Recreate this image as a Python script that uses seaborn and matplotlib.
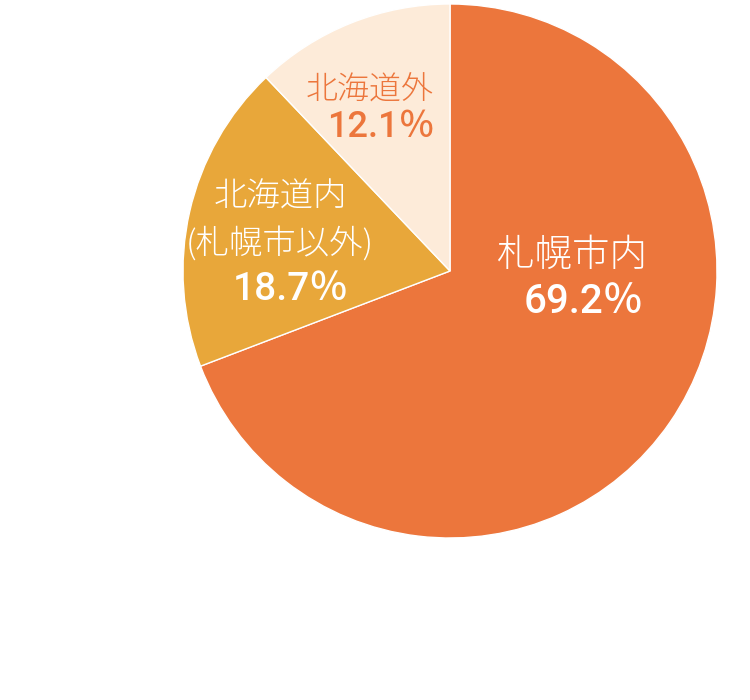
import matplotlib
matplotlib.use('Agg')
import matplotlib.pyplot as plt
import seaborn as sns

categories = ['札幌市内', '北海道内\n(札幌市以外)', '北海道外']
shares = [69.2, 18.7, 12.1]
colors = ['#EC763C', '#E8A73A', '#FDEBD9']
text_colors = ['white', 'white', '#EC763C']

sns.set_theme(style='white')
plt.rcParams['font.family'] = ['Noto Sans CJK JP', 'DejaVu Sans']

fig = plt.figure(figsize=(7.5, 7), dpi=100)
ax = fig.add_axes([183 / 750, 162 / 700, 534 / 750, 534 / 700])
ax.pie(shares, colors=colors, startangle=90, counterclock=False,
       wedgeprops=dict(edgecolor='white', linewidth=1))
ax.set_xlim(-1, 1)
ax.set_ylim(-1, 1)
ax.set_aspect('equal')
ax.axis('off')

# label placement, data units
name_pos = [(0.457, 0.06), (-0.637, 0.187), (-0.30, 0.678)]
name_size = [27, 24, 23]
value_pos = [(0.502, -0.116), (-0.595, -0.071), (-0.258, 0.536)]
value_size = [29, 28, 26]
for i in range(len(categories)):
    ax.text(*name_pos[i], categories[i], color=text_colors[i],
            fontsize=name_size[i], fontweight='light',
            ha='center', va='center', linespacing=1.45)
    ax.text(*value_pos[i], f'{shares[i]:.1f}％', color=text_colors[i],
            fontsize=value_size[i], fontweight='medium',
            family=['Roboto', 'Noto Sans CJK JP'],
            ha='center', va='center')

fig.savefig('out.png', dpi=100, facecolor='white')
